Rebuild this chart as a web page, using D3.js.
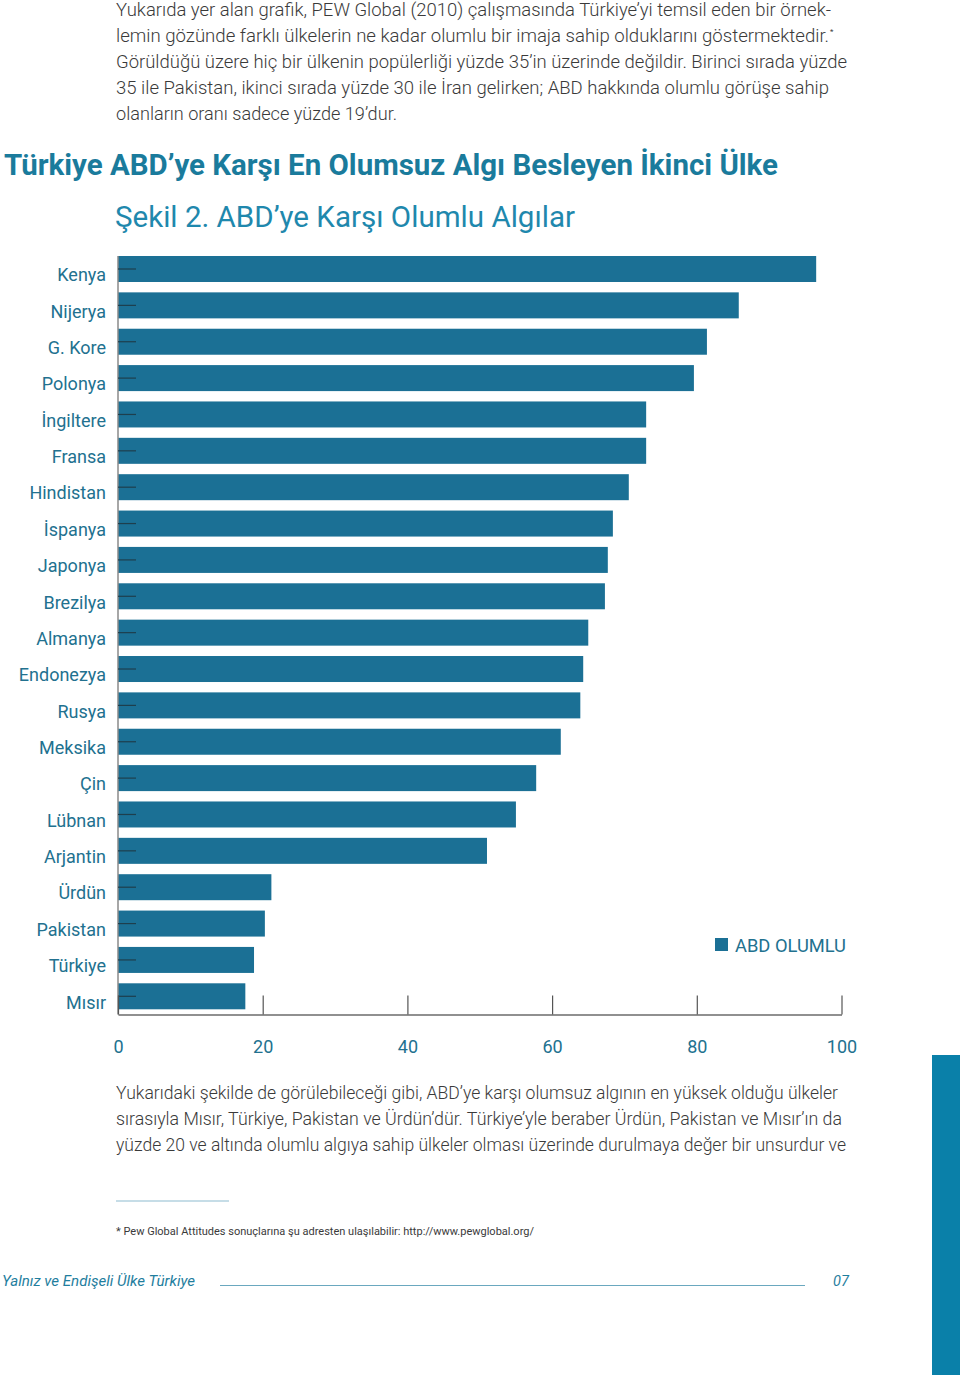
<!DOCTYPE html>
<html>
<head>
<meta charset="utf-8">
<script src="https://cdn.jsdelivr.net/npm/d3@7"></script>
<style>
  html, body { margin: 0; padding: 0; background: #fff; }
  svg { display: block; }
  text { font-family: Roboto, "Open Sans", sans-serif; }
</style>
</head>
<body>
<svg id="page" width="960" height="1375"></svg>
<script>
const countries = ["Kenya","Nijerya","G. Kore","Polonya","İngiltere","Fransa","Hindistan","İspanya","Japonya","Brezilya","Almanya","Endonezya","Rusya","Meksika","Çin","Lübnan","Arjantin","Ürdün","Pakistan","Türkiye","Mısır"];
const favorable = [96.5,85.8,81.4,79.6,73.0,73.0,70.6,68.4,67.7,67.3,65.0,64.3,63.9,61.2,57.8,55.0,51.0,21.2,20.3,18.8,17.6];
const xTicks = [0,20,40,60,80,100];
const seriesName = "ABD OLUMLU";

const introLines = [
  "Yukarıda yer alan grafik, PEW Global (2010) çalışmasında Türkiye’yi temsil eden bir örnek-",
  "lemin gözünde farklı ülkelerin ne kadar olumlu bir imaja sahip olduklarını göstermektedir.",
  "Görüldüğü üzere hiç bir ülkenin popülerliği yüzde 35’in üzerinde değildir. Birinci sırada yüzde",
  "35 ile Pakistan, ikinci sırada yüzde 30 ile İran gelirken; ABD hakkında olumlu görüşe sahip",
  "olanların oranı sadece yüzde 19’dur."
];
const introWidths = [715, 713, 731, 713, 281];
const outroLines = [
  "Yukarıdaki şekilde de görülebileceği gibi, ABD’ye karşı olumsuz algının en yüksek olduğu ülkeler",
  "sırasıyla Mısır, Türkiye, Pakistan ve Ürdün’dür. Türkiye’yle beraber Ürdün, Pakistan ve Mısır’ın da",
  "yüzde 20 ve altında olumlu algıya sahip ülkeler olması üzerinde durulmaya değer bir unsurdur ve"
];
const outroWidths = [722, 726, 730];

const svg = d3.select("#page");
const barColor = "#1b7095";
const labelColor = "#22718f";
const textColor = "#3a3a3a";

// intro paragraph
introLines.forEach((t, i) => {
  svg.append("text").attr("x", 116).attr("y", 16 + i * 26)
    .attr("font-size", 17.5).attr("font-weight", 300).attr("fill", textColor)
    .attr("textLength", introWidths[i]).attr("lengthAdjust", "spacingAndGlyphs")
    .text(t);
});
svg.append("text").attr("x", 830).attr("y", 34).attr("font-size", 8).attr("fill", textColor).text("*");

// title
svg.append("text").attr("x", 4).attr("y", 175)
  .attr("font-size", 30).attr("font-weight", 700).attr("fill", "#1a7b9c")
  .attr("textLength", 774).attr("lengthAdjust", "spacingAndGlyphs")
  .text("Türkiye ABD’ye Karşı En Olumsuz Algı Besleyen İkinci Ülke");
svg.append("text").attr("x", 115).attr("y", 227)
  .attr("font-size", 30).attr("font-weight", 400).attr("fill", "#1f88ad")
  .attr("textLength", 460).attr("lengthAdjust", "spacingAndGlyphs")
  .text("Şekil 2. ABD’ye Karşı Olumlu Algılar");

// chart
const x = d3.scaleLinear().domain([0, 100]).range([118, 841.5]);
const y = d3.scaleBand().domain(countries).range([250.8, 1014.5]).paddingInner(0.285).paddingOuter(0.143);

svg.append("g").selectAll("rect").data(countries).join("rect")
  .attr("x", x(0)).attr("y", d => y(d))
  .attr("width", (d, i) => x(favorable[i]) - x(0))
  .attr("height", y.bandwidth())
  .attr("fill", barColor);

const yAxis = svg.append("g").attr("transform", `translate(${x(0)},0)`)
  .call(d3.axisLeft(y).tickSizeInner(-18).tickSizeOuter(0).tickPadding(12));
yAxis.select(".domain").attr("d", `M0,${y(countries[0])}V${y.range()[1]}`)
  .attr("stroke", "#8a8a8a").attr("stroke-width", 1.5);
yAxis.selectAll(".tick line").attr("stroke", "#1e3f4d").attr("stroke-width", 1.2);
yAxis.selectAll(".tick text").attr("font-size", 18).attr("fill", labelColor)
  .attr("font-family", "Roboto, sans-serif").attr("dy", "0.68em");

const xAxis = svg.append("g").attr("transform", `translate(0,${y.range()[1]})`)
  .call(d3.axisBottom(x).tickValues(xTicks).tickSizeInner(-19).tickSizeOuter(0).tickPadding(26));
xAxis.select(".domain").attr("stroke", "#6b6b6b").attr("stroke-width", 1.5);
xAxis.selectAll(".tick line").attr("stroke", "#555").attr("stroke-width", 1.2);
xAxis.selectAll(".tick text").attr("font-size", 18).attr("fill", labelColor)
  .attr("font-family", "Roboto, sans-serif");

// legend
svg.append("rect").attr("x", 715).attr("y", 938).attr("width", 13).attr("height", 13).attr("fill", barColor);
svg.append("text").attr("x", 735).attr("y", 951.5).attr("font-size", 18).attr("fill", labelColor)
  .attr("textLength", 111).attr("lengthAdjust", "spacingAndGlyphs").text(seriesName);

// outro paragraph
outroLines.forEach((t, i) => {
  svg.append("text").attr("x", 116).attr("y", 1099 + i * 26)
    .attr("font-size", 17.5).attr("font-weight", 300).attr("fill", textColor)
    .attr("textLength", outroWidths[i]).attr("lengthAdjust", "spacingAndGlyphs")
    .text(t);
});

// footnote
svg.append("line").attr("x1", 116).attr("x2", 229).attr("y1", 1201).attr("y2", 1201)
  .attr("stroke", "#8dbbcf").attr("stroke-width", 1);
svg.append("text").attr("x", 116).attr("y", 1235).attr("font-size", 11.5).attr("fill", textColor)
  .attr("textLength", 418).attr("lengthAdjust", "spacingAndGlyphs")
  .text("* Pew Global Attitudes sonuçlarına şu adresten ulaşılabilir: http://www.pewglobal.org/");

// footer
svg.append("text").attr("x", 2).attr("y", 1286).attr("font-size", 14.5).attr("font-style", "italic")
  .attr("fill", "#1f7e9e").attr("textLength", 193).attr("lengthAdjust", "spacingAndGlyphs")
  .text("Yalnız ve Endişeli Ülke Türkiye");
svg.append("line").attr("x1", 220).attr("x2", 805).attr("y1", 1285.5).attr("y2", 1285.5)
  .attr("stroke", "#6aa8bf").attr("stroke-width", 1);
svg.append("text").attr("x", 833).attr("y", 1286).attr("font-size", 14.5).attr("font-style", "italic")
  .attr("fill", "#1f7e9e").text("07");

// right edge band
svg.append("rect").attr("x", 932).attr("y", 1055).attr("width", 28).attr("height", 320).attr("fill", "#0a80a9");
</script>
</body>
</html>
